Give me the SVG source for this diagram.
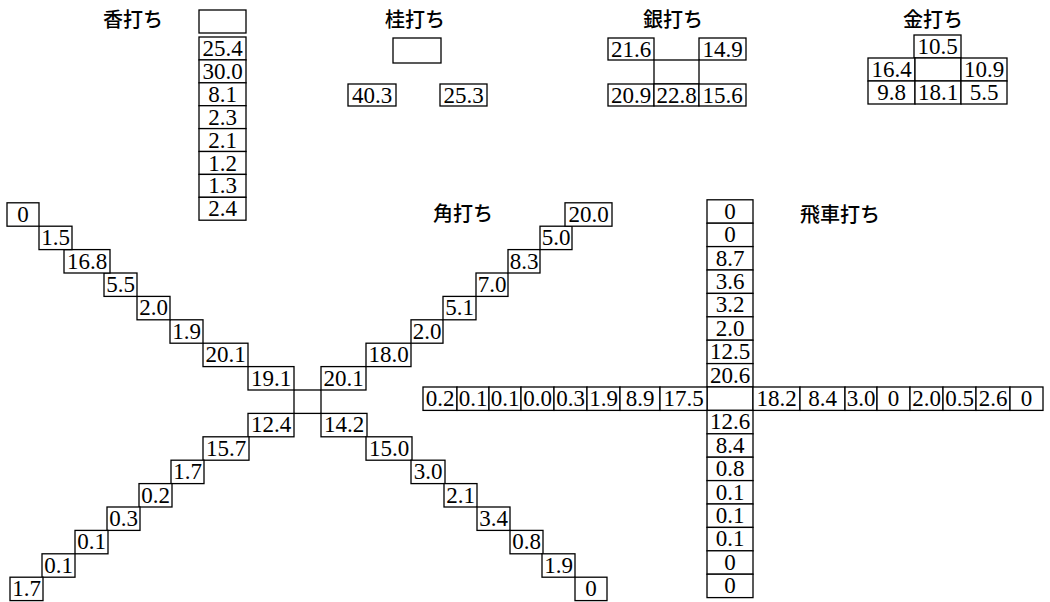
<svg xmlns="http://www.w3.org/2000/svg" width="1050" height="602" viewBox="0 0 1050 602">
<style>
  rect { fill: #fff; stroke: #000; stroke-width: 1.3; }
  text.n { font-family: "Liberation Serif", "Times New Roman", serif; font-size: 23px; text-anchor: middle; fill: #000; }
  text.t { font-family: "Noto Sans CJK JP", "Noto Sans CJK SC", sans-serif; font-size: 20px; font-weight: 500; fill: #000; }
</style>
<rect x="0" y="0" width="1050" height="602" style="stroke:none;fill:#fff"/>

<!-- Lance drop -->
<g id="lance">
  <text class="t" x="103" y="27">香打ち</text>
  <g id="lance-origin"><rect x="199" y="10" width="47" height="23"/></g>
  <g id="lance-1"><rect x="199" y="37" width="47" height="22.9"/><text class="n" x="222.5" y="56">25.4</text></g>
  <g id="lance-2"><rect x="199" y="59.9" width="47" height="22.9"/><text class="n" x="222.5" y="78.9">30.0</text></g>
  <g id="lance-3"><rect x="199" y="82.8" width="47" height="22.9"/><text class="n" x="222.5" y="101.8">8.1</text></g>
  <g id="lance-4"><rect x="199" y="105.7" width="47" height="22.9"/><text class="n" x="222.5" y="124.7">2.3</text></g>
  <g id="lance-5"><rect x="199" y="128.6" width="47" height="22.9"/><text class="n" x="222.5" y="147.6">2.1</text></g>
  <g id="lance-6"><rect x="199" y="151.5" width="47" height="22.9"/><text class="n" x="222.5" y="170.5">1.2</text></g>
  <g id="lance-7"><rect x="199" y="174.4" width="47" height="22.9"/><text class="n" x="222.5" y="193.4">1.3</text></g>
  <g id="lance-8"><rect x="199" y="197.3" width="47" height="22.9"/><text class="n" x="222.5" y="216.3">2.4</text></g>
</g>

<!-- Knight drop -->
<g id="knight">
  <text class="t" x="385" y="27">桂打ち</text>
  <g id="knight-origin"><rect x="393" y="38" width="48" height="25"/></g>
  <g id="knight-left"><rect x="348" y="84" width="48" height="22"/><text class="n" x="372" y="102.5">40.3</text></g>
  <g id="knight-right"><rect x="440" y="84" width="47" height="22"/><text class="n" x="463.5" y="102.5">25.3</text></g>
</g>

<!-- Silver drop -->
<g id="silver">
  <text class="t" x="643" y="27">銀打ち</text>
  <g id="silver-bl"><rect x="608" y="38" width="46" height="22"/><text class="n" x="631" y="56.5">21.6</text></g>
  <g id="silver-br"><rect x="699" y="38" width="47" height="22"/><text class="n" x="722.5" y="56.5">14.9</text></g>
  <g id="silver-origin"><rect x="654" y="60" width="45" height="24"/></g>
  <g id="silver-fl"><rect x="608" y="84" width="46" height="22"/><text class="n" x="631" y="102.5">20.9</text></g>
  <g id="silver-f"><rect x="654" y="84" width="45" height="22"/><text class="n" x="676.5" y="102.5">22.8</text></g>
  <g id="silver-fr"><rect x="699" y="84" width="47" height="22"/><text class="n" x="722.5" y="102.5">15.6</text></g>
</g>

<!-- Gold drop -->
<g id="gold">
  <text class="t" x="903" y="27">金打ち</text>
  <g id="gold-b"><rect x="914" y="35" width="47" height="23"/><text class="n" x="937.5" y="54">10.5</text></g>
  <g id="gold-l"><rect x="868" y="58" width="47" height="23"/><text class="n" x="891.5" y="77">16.4</text></g>
  <g id="gold-origin"><rect x="915" y="58" width="46" height="23"/></g>
  <g id="gold-r"><rect x="961" y="58" width="46" height="23"/><text class="n" x="984" y="77">10.9</text></g>
  <g id="gold-fl"><rect x="868" y="81" width="47" height="23"/><text class="n" x="891.5" y="100">9.8</text></g>
  <g id="gold-f"><rect x="915" y="81" width="46" height="23"/><text class="n" x="938" y="100">18.1</text></g>
  <g id="gold-fr"><rect x="961" y="81" width="46" height="23"/><text class="n" x="984" y="100">5.5</text></g>
</g>

<!-- Bishop drop -->
<g id="bishop">
  <text class="t" x="433" y="221">角打ち</text>
  <g id="bishop-origin"><rect x="294" y="390" width="27" height="23.4"/></g>
  <!-- upper-left diagonal -->
  <g id="bishop-ul1"><rect x="248" y="366.6" width="46" height="23.4"/><text class="n" x="271" y="385.6">19.1</text></g>
  <g id="bishop-ul2"><rect x="203" y="343.2" width="45" height="23.4"/><text class="n" x="225.5" y="362.2">20.1</text></g>
  <g id="bishop-ul3"><rect x="170" y="319.8" width="33" height="23.4"/><text class="n" x="186.5" y="338.8">1.9</text></g>
  <g id="bishop-ul4"><rect x="137" y="296.4" width="33" height="23.4"/><text class="n" x="153.5" y="315.4">2.0</text></g>
  <g id="bishop-ul5"><rect x="104" y="273" width="33" height="23.4"/><text class="n" x="120.5" y="292">5.5</text></g>
  <g id="bishop-ul6"><rect x="64" y="249.6" width="46" height="23.4"/><text class="n" x="87" y="268.6">16.8</text></g>
  <g id="bishop-ul7"><rect x="39" y="226.2" width="33" height="23.4"/><text class="n" x="55.5" y="245.2">1.5</text></g>
  <g id="bishop-ul8"><rect x="7" y="202.8" width="32" height="23.4"/><text class="n" x="23" y="221.8">0</text></g>
  <!-- upper-right diagonal -->
  <g id="bishop-ur1"><rect x="321" y="366.6" width="45" height="23.4"/><text class="n" x="343.5" y="385.6">20.1</text></g>
  <g id="bishop-ur2"><rect x="366" y="343.2" width="45" height="23.4"/><text class="n" x="388.5" y="362.2">18.0</text></g>
  <g id="bishop-ur3"><rect x="411" y="319.8" width="32" height="23.4"/><text class="n" x="427" y="338.8">2.0</text></g>
  <g id="bishop-ur4"><rect x="443" y="296.4" width="33" height="23.4"/><text class="n" x="459.5" y="315.4">5.1</text></g>
  <g id="bishop-ur5"><rect x="476" y="273" width="32" height="23.4"/><text class="n" x="492" y="292">7.0</text></g>
  <g id="bishop-ur6"><rect x="508" y="249.6" width="32" height="23.4"/><text class="n" x="524" y="268.6">8.3</text></g>
  <g id="bishop-ur7"><rect x="540" y="226.2" width="32" height="23.4"/><text class="n" x="556" y="245.2">5.0</text></g>
  <g id="bishop-ur8"><rect x="565" y="202.8" width="47" height="23.4"/><text class="n" x="588.5" y="221.8">20.0</text></g>
  <!-- lower-left diagonal -->
  <g id="bishop-ll1"><rect x="248" y="413.4" width="46" height="23.4"/><text class="n" x="271" y="432.4">12.4</text></g>
  <g id="bishop-ll2"><rect x="203" y="436.8" width="46" height="23.4"/><text class="n" x="226" y="455.8">15.7</text></g>
  <g id="bishop-ll3"><rect x="171" y="460.2" width="33" height="23.4"/><text class="n" x="187.5" y="479.2">1.7</text></g>
  <g id="bishop-ll4"><rect x="139" y="483.6" width="33" height="23.4"/><text class="n" x="155.5" y="502.6">0.2</text></g>
  <g id="bishop-ll5"><rect x="107" y="507" width="33" height="23.4"/><text class="n" x="123.5" y="526">0.3</text></g>
  <g id="bishop-ll6"><rect x="75" y="530.4" width="33" height="23.4"/><text class="n" x="91.5" y="549.4">0.1</text></g>
  <g id="bishop-ll7"><rect x="42" y="553.8" width="33" height="23.4"/><text class="n" x="58.5" y="572.8">0.1</text></g>
  <g id="bishop-ll8"><rect x="10" y="577.2" width="33" height="23.4"/><text class="n" x="26.5" y="596.2">1.7</text></g>
  <!-- lower-right diagonal -->
  <g id="bishop-lr1"><rect x="321" y="413.4" width="46" height="23.4"/><text class="n" x="344" y="432.4">14.2</text></g>
  <g id="bishop-lr2"><rect x="366" y="436.8" width="46" height="23.4"/><text class="n" x="389" y="455.8">15.0</text></g>
  <g id="bishop-lr3"><rect x="411" y="460.2" width="34" height="23.4"/><text class="n" x="428" y="479.2">3.0</text></g>
  <g id="bishop-lr4"><rect x="444" y="483.6" width="33" height="23.4"/><text class="n" x="460.5" y="502.6">2.1</text></g>
  <g id="bishop-lr5"><rect x="477" y="507" width="33" height="23.4"/><text class="n" x="493.5" y="526">3.4</text></g>
  <g id="bishop-lr6"><rect x="510" y="530.4" width="33" height="23.4"/><text class="n" x="526.5" y="549.4">0.8</text></g>
  <g id="bishop-lr7"><rect x="542" y="553.8" width="33" height="23.4"/><text class="n" x="558.5" y="572.8">1.9</text></g>
  <g id="bishop-lr8"><rect x="575" y="577.2" width="32" height="23.4"/><text class="n" x="591" y="596.2">0</text></g>
</g>

<!-- Rook drop -->
<g id="rook">
  <text class="t" x="800" y="222">飛車打ち</text>
  <!-- column above -->
  <g id="rook-u8"><rect x="707" y="199.8" width="46" height="23.4"/><text class="n" x="730" y="218.8">0</text></g>
  <g id="rook-u7"><rect x="707" y="223.2" width="46" height="23.4"/><text class="n" x="730" y="242.2">0</text></g>
  <g id="rook-u6"><rect x="707" y="246.6" width="46" height="23.4"/><text class="n" x="730" y="265.6">8.7</text></g>
  <g id="rook-u5"><rect x="707" y="270" width="46" height="23.4"/><text class="n" x="730" y="289">3.6</text></g>
  <g id="rook-u4"><rect x="707" y="293.4" width="46" height="23.4"/><text class="n" x="730" y="312.4">3.2</text></g>
  <g id="rook-u3"><rect x="707" y="316.8" width="46" height="23.4"/><text class="n" x="730" y="335.8">2.0</text></g>
  <g id="rook-u2"><rect x="707" y="340.2" width="46" height="23.4"/><text class="n" x="730" y="359.2">12.5</text></g>
  <g id="rook-u1"><rect x="707" y="363.6" width="46" height="23.4"/><text class="n" x="730" y="382.6">20.6</text></g>
  <g id="rook-origin"><rect x="707" y="387" width="46" height="23.4"/></g>
  <!-- row to the left -->
  <g id="rook-l8"><rect x="423" y="387" width="34" height="23.4"/><text class="n" x="440" y="406">0.2</text></g>
  <g id="rook-l7"><rect x="457" y="387" width="32" height="23.4"/><text class="n" x="473" y="406">0.1</text></g>
  <g id="rook-l6"><rect x="489" y="387" width="32" height="23.4"/><text class="n" x="505" y="406">0.1</text></g>
  <g id="rook-l5"><rect x="521" y="387" width="33" height="23.4"/><text class="n" x="537.5" y="406">0.0</text></g>
  <g id="rook-l4"><rect x="554" y="387" width="33" height="23.4"/><text class="n" x="570.5" y="406">0.3</text></g>
  <g id="rook-l3"><rect x="587" y="387" width="33" height="23.4"/><text class="n" x="603.5" y="406">1.9</text></g>
  <g id="rook-l2"><rect x="620" y="387" width="40" height="23.4"/><text class="n" x="640" y="406">8.9</text></g>
  <g id="rook-l1"><rect x="660" y="387" width="47" height="23.4"/><text class="n" x="683.5" y="406">17.5</text></g>
  <!-- row to the right -->
  <g id="rook-r1"><rect x="753" y="387" width="47" height="23.4"/><text class="n" x="776.5" y="406">18.2</text></g>
  <g id="rook-r2"><rect x="800" y="387" width="45" height="23.4"/><text class="n" x="822.5" y="406">8.4</text></g>
  <g id="rook-r3"><rect x="845" y="387" width="32" height="23.4"/><text class="n" x="861" y="406">3.0</text></g>
  <g id="rook-r4"><rect x="877" y="387" width="33" height="23.4"/><text class="n" x="893.5" y="406">0</text></g>
  <g id="rook-r5"><rect x="910" y="387" width="33" height="23.4"/><text class="n" x="926.5" y="406">2.0</text></g>
  <g id="rook-r6"><rect x="943" y="387" width="33" height="23.4"/><text class="n" x="959.5" y="406">0.5</text></g>
  <g id="rook-r7"><rect x="976" y="387" width="34" height="23.4"/><text class="n" x="993" y="406">2.6</text></g>
  <g id="rook-r8"><rect x="1010" y="387" width="33" height="23.4"/><text class="n" x="1026.5" y="406">0</text></g>
  <!-- column below -->
  <g id="rook-d1"><rect x="707" y="410.4" width="46" height="23.4"/><text class="n" x="730" y="429.4">12.6</text></g>
  <g id="rook-d2"><rect x="707" y="433.8" width="46" height="23.4"/><text class="n" x="730" y="452.8">8.4</text></g>
  <g id="rook-d3"><rect x="707" y="457.2" width="46" height="23.4"/><text class="n" x="730" y="476.2">0.8</text></g>
  <g id="rook-d4"><rect x="707" y="480.6" width="46" height="23.4"/><text class="n" x="730" y="499.6">0.1</text></g>
  <g id="rook-d5"><rect x="707" y="504" width="46" height="23.4"/><text class="n" x="730" y="523">0.1</text></g>
  <g id="rook-d6"><rect x="707" y="527.4" width="46" height="23.4"/><text class="n" x="730" y="546.4">0.1</text></g>
  <g id="rook-d7"><rect x="707" y="550.8" width="46" height="23.4"/><text class="n" x="730" y="569.8">0</text></g>
  <g id="rook-d8"><rect x="707" y="574.2" width="46" height="23.4"/><text class="n" x="730" y="593.2">0</text></g>
</g>
</svg>
